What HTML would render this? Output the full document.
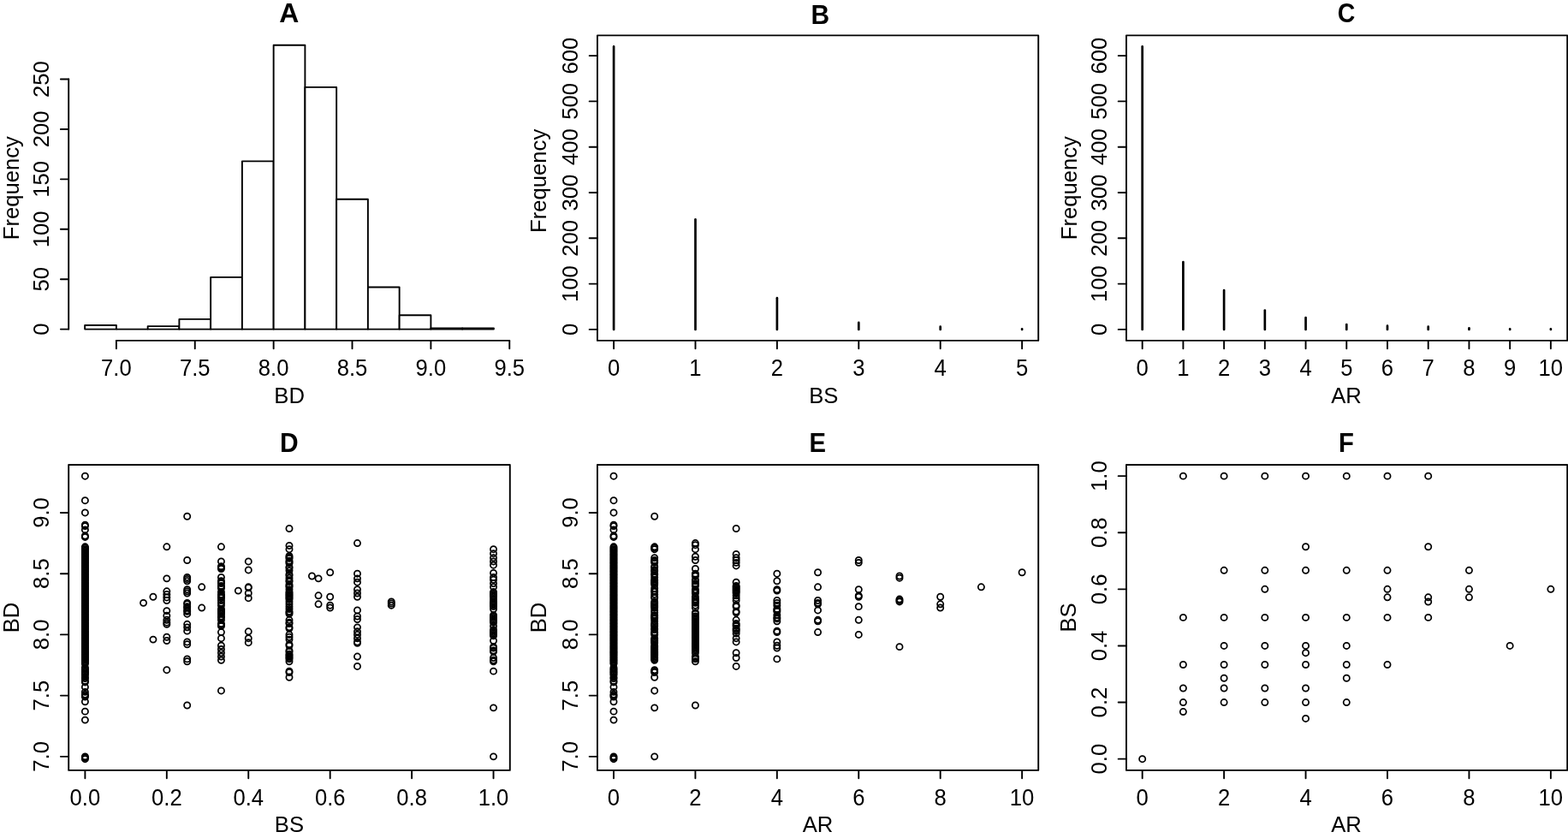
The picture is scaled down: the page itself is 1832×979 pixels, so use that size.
<!DOCTYPE html>
<html lang="en">
<head>
<meta charset="utf-8">
<title>Distributions and pairwise relationships of BD, BS and AR</title>
<style>
html,body{margin:0;padding:0;background:#fff;}
body{width:1832px;height:979px;overflow:hidden;}
svg{display:block;}
svg text{font-family:"Liberation Sans",sans-serif;fill:#000;}
.ax line,.spk line{stroke:#000;}
.box{fill:none;stroke:#000;stroke-width:1.9;stroke-linejoin:round;}
.bar rect{fill:#fff;stroke:#000;stroke-width:1.9;stroke-linejoin:round;}
.bar line{stroke:#000;stroke-width:1.9;}
.pt circle{fill:none;stroke:#000;stroke-width:1.75;}
</style>
</head>
<body>
<svg width="1832" height="979" viewBox="0 0 1832 979">
<rect x="0" y="0" width="1832" height="979" fill="#fff"/>
<text transform="translate(337.9 26.1) scale(1.03 1)" font-size="31" text-anchor="middle" font-weight="bold">A</text>
<g class="bar">
<rect x="99.15" y="379.93" width="36.75" height="4.67"/>
<line x1="135.9" y1="384.6" x2="172.65" y2="384.6"/>
<rect x="172.65" y="381.1" width="36.75" height="3.5"/>
<rect x="209.4" y="372.92" width="36.75" height="11.68"/>
<rect x="246.15" y="323.85" width="36.75" height="60.75"/>
<rect x="282.9" y="188.33" width="36.75" height="196.27"/>
<rect x="319.65" y="52.8" width="36.75" height="331.8"/>
<rect x="356.4" y="101.87" width="36.75" height="282.73"/>
<rect x="393.15" y="232.72" width="36.75" height="151.88"/>
<rect x="429.9" y="335.53" width="36.75" height="49.07"/>
<rect x="466.65" y="368.24" width="36.75" height="16.36"/>
<rect x="503.4" y="383.43" width="36.75" height="1.17"/>
<rect x="540.15" y="383.43" width="36.75" height="1.17"/>
</g>
<g class="ax">
<line x1="135.9" y1="397.9" x2="595.27" y2="397.9" stroke-width="1.9" stroke-linecap="round"/>
<line x1="135.9" y1="397.9" x2="135.9" y2="407.2" stroke-width="1.9" stroke-linecap="round"/>
<line x1="227.77" y1="397.9" x2="227.77" y2="407.2" stroke-width="1.9" stroke-linecap="round"/>
<line x1="319.65" y1="397.9" x2="319.65" y2="407.2" stroke-width="1.9" stroke-linecap="round"/>
<line x1="411.52" y1="397.9" x2="411.52" y2="407.2" stroke-width="1.9" stroke-linecap="round"/>
<line x1="503.4" y1="397.9" x2="503.4" y2="407.2" stroke-width="1.9" stroke-linecap="round"/>
<line x1="595.27" y1="397.9" x2="595.27" y2="407.2" stroke-width="1.9" stroke-linecap="round"/>
</g>
<g class="tl">
<text transform="translate(135.9 439) scale(1 1.045)" font-size="25.65" text-anchor="middle">7.0</text>
<text transform="translate(227.77 439) scale(1 1.045)" font-size="25.65" text-anchor="middle">7.5</text>
<text transform="translate(319.65 439) scale(1 1.045)" font-size="25.65" text-anchor="middle">8.0</text>
<text transform="translate(411.52 439) scale(1 1.045)" font-size="25.65" text-anchor="middle">8.5</text>
<text transform="translate(503.4 439) scale(1 1.045)" font-size="25.65" text-anchor="middle">9.0</text>
<text transform="translate(595.27 439) scale(1 1.045)" font-size="25.65" text-anchor="middle">9.5</text>
</g>
<g class="ax">
<line x1="80.2" y1="384.6" x2="80.2" y2="92.53" stroke-width="1.9" stroke-linecap="round"/>
<line x1="70.9" y1="384.6" x2="80.2" y2="384.6" stroke-width="1.9" stroke-linecap="round"/>
<line x1="70.9" y1="326.19" x2="80.2" y2="326.19" stroke-width="1.9" stroke-linecap="round"/>
<line x1="70.9" y1="267.77" x2="80.2" y2="267.77" stroke-width="1.9" stroke-linecap="round"/>
<line x1="70.9" y1="209.36" x2="80.2" y2="209.36" stroke-width="1.9" stroke-linecap="round"/>
<line x1="70.9" y1="150.94" x2="80.2" y2="150.94" stroke-width="1.9" stroke-linecap="round"/>
<line x1="70.9" y1="92.53" x2="80.2" y2="92.53" stroke-width="1.9" stroke-linecap="round"/>
</g>
<g class="tl">
<text transform="translate(56.8 384.6) rotate(-90) scale(1 1.035)" font-size="25.65" text-anchor="middle">0</text>
<text transform="translate(56.8 326.19) rotate(-90) scale(1 1.035)" font-size="25.65" text-anchor="middle">50</text>
<text transform="translate(56.8 267.77) rotate(-90) scale(1 1.035)" font-size="25.65" text-anchor="middle">100</text>
<text transform="translate(56.8 209.36) rotate(-90) scale(1 1.035)" font-size="25.65" text-anchor="middle">150</text>
<text transform="translate(56.8 150.94) rotate(-90) scale(1 1.035)" font-size="25.65" text-anchor="middle">200</text>
<text transform="translate(56.8 92.53) rotate(-90) scale(1 1.035)" font-size="25.65" text-anchor="middle">250</text>
</g>
<text transform="translate(338.1 470.6) scale(1 1.03)" font-size="25.65" text-anchor="middle">BD</text>
<text transform="translate(22 219.65) rotate(-90) scale(1 1.035)" font-size="25.65" text-anchor="middle">Frequency</text>
<rect class="box" x="697.95" y="41.4" width="515.25" height="356.5"/>
<text transform="translate(958.2 28.4) scale(0.967 1)" font-size="31" text-anchor="middle" font-weight="bold">B</text>
<g class="spk">
<line x1="717.1" y1="384.9" x2="717.1" y2="54.46" stroke-width="2.7" stroke-linecap="round"/>
<line x1="812.5" y1="384.9" x2="812.5" y2="256.45" stroke-width="2.7" stroke-linecap="round"/>
<line x1="907.9" y1="384.9" x2="907.9" y2="348.13" stroke-width="2.7" stroke-linecap="round"/>
<line x1="1003.3" y1="384.9" x2="1003.3" y2="376.91" stroke-width="2.7" stroke-linecap="round"/>
<line x1="1098.7" y1="384.9" x2="1098.7" y2="381.7" stroke-width="2.7" stroke-linecap="round"/>
<line x1="1194.1" y1="384.9" x2="1194.1" y2="384.37" stroke-width="2.7" stroke-linecap="round"/>
</g>
<g class="ax">
<line x1="717.1" y1="397.9" x2="717.1" y2="407.2" stroke-width="1.9" stroke-linecap="round"/>
<line x1="812.5" y1="397.9" x2="812.5" y2="407.2" stroke-width="1.9" stroke-linecap="round"/>
<line x1="907.9" y1="397.9" x2="907.9" y2="407.2" stroke-width="1.9" stroke-linecap="round"/>
<line x1="1003.3" y1="397.9" x2="1003.3" y2="407.2" stroke-width="1.9" stroke-linecap="round"/>
<line x1="1098.7" y1="397.9" x2="1098.7" y2="407.2" stroke-width="1.9" stroke-linecap="round"/>
<line x1="1194.1" y1="397.9" x2="1194.1" y2="407.2" stroke-width="1.9" stroke-linecap="round"/>
</g>
<g class="tl">
<text transform="translate(717.1 439) scale(1 1.045)" font-size="25.65" text-anchor="middle">0</text>
<text transform="translate(812.5 439) scale(1 1.045)" font-size="25.65" text-anchor="middle">1</text>
<text transform="translate(907.9 439) scale(1 1.045)" font-size="25.65" text-anchor="middle">2</text>
<text transform="translate(1003.3 439) scale(1 1.045)" font-size="25.65" text-anchor="middle">3</text>
<text transform="translate(1098.7 439) scale(1 1.045)" font-size="25.65" text-anchor="middle">4</text>
<text transform="translate(1194.1 439) scale(1 1.045)" font-size="25.65" text-anchor="middle">5</text>
</g>
<g class="ax">
<line x1="688.65" y1="384.9" x2="697.95" y2="384.9" stroke-width="1.9" stroke-linecap="round"/>
<line x1="688.65" y1="331.6" x2="697.95" y2="331.6" stroke-width="1.9" stroke-linecap="round"/>
<line x1="688.65" y1="278.31" x2="697.95" y2="278.31" stroke-width="1.9" stroke-linecap="round"/>
<line x1="688.65" y1="225.01" x2="697.95" y2="225.01" stroke-width="1.9" stroke-linecap="round"/>
<line x1="688.65" y1="171.71" x2="697.95" y2="171.71" stroke-width="1.9" stroke-linecap="round"/>
<line x1="688.65" y1="118.41" x2="697.95" y2="118.41" stroke-width="1.9" stroke-linecap="round"/>
<line x1="688.65" y1="65.12" x2="697.95" y2="65.12" stroke-width="1.9" stroke-linecap="round"/>
</g>
<g class="tl">
<text transform="translate(674.55 384.9) rotate(-90) scale(1 1.035)" font-size="25.65" text-anchor="middle">0</text>
<text transform="translate(674.55 331.6) rotate(-90) scale(1 1.035)" font-size="25.65" text-anchor="middle">100</text>
<text transform="translate(674.55 278.31) rotate(-90) scale(1 1.035)" font-size="25.65" text-anchor="middle">200</text>
<text transform="translate(674.55 225.01) rotate(-90) scale(1 1.035)" font-size="25.65" text-anchor="middle">300</text>
<text transform="translate(674.55 171.71) rotate(-90) scale(1 1.035)" font-size="25.65" text-anchor="middle">400</text>
<text transform="translate(674.55 118.41) rotate(-90) scale(1 1.035)" font-size="25.65" text-anchor="middle">500</text>
<text transform="translate(674.55 65.12) rotate(-90) scale(1 1.035)" font-size="25.65" text-anchor="middle">600</text>
</g>
<text transform="translate(962.3 470.6) scale(1 1.03)" font-size="25.65" text-anchor="middle">BS</text>
<text transform="translate(637.65 211.35) rotate(-90) scale(1 1.035)" font-size="25.65" text-anchor="middle">Frequency</text>
<rect class="box" x="1315.95" y="41.4" width="515.25" height="356.5"/>
<text transform="translate(1573 26.3) scale(0.92 1)" font-size="31" text-anchor="middle" font-weight="bold">C</text>
<g class="spk">
<line x1="1334.67" y1="384.9" x2="1334.67" y2="54.46" stroke-width="2.7" stroke-linecap="round"/>
<line x1="1382.39" y1="384.9" x2="1382.39" y2="306.02" stroke-width="2.7" stroke-linecap="round"/>
<line x1="1430.11" y1="384.9" x2="1430.11" y2="339.06" stroke-width="2.7" stroke-linecap="round"/>
<line x1="1477.83" y1="384.9" x2="1477.83" y2="362.52" stroke-width="2.7" stroke-linecap="round"/>
<line x1="1525.55" y1="384.9" x2="1525.55" y2="371.04" stroke-width="2.7" stroke-linecap="round"/>
<line x1="1573.27" y1="384.9" x2="1573.27" y2="379.04" stroke-width="2.7" stroke-linecap="round"/>
<line x1="1620.99" y1="384.9" x2="1620.99" y2="380.64" stroke-width="2.7" stroke-linecap="round"/>
<line x1="1668.71" y1="384.9" x2="1668.71" y2="381.7" stroke-width="2.7" stroke-linecap="round"/>
<line x1="1716.43" y1="384.9" x2="1716.43" y2="383.3" stroke-width="2.7" stroke-linecap="round"/>
<line x1="1764.15" y1="384.9" x2="1764.15" y2="384.37" stroke-width="2.7" stroke-linecap="round"/>
<line x1="1811.87" y1="384.9" x2="1811.87" y2="384.37" stroke-width="2.7" stroke-linecap="round"/>
</g>
<g class="ax">
<line x1="1334.67" y1="397.9" x2="1334.67" y2="407.2" stroke-width="1.9" stroke-linecap="round"/>
<line x1="1382.39" y1="397.9" x2="1382.39" y2="407.2" stroke-width="1.9" stroke-linecap="round"/>
<line x1="1430.11" y1="397.9" x2="1430.11" y2="407.2" stroke-width="1.9" stroke-linecap="round"/>
<line x1="1477.83" y1="397.9" x2="1477.83" y2="407.2" stroke-width="1.9" stroke-linecap="round"/>
<line x1="1525.55" y1="397.9" x2="1525.55" y2="407.2" stroke-width="1.9" stroke-linecap="round"/>
<line x1="1573.27" y1="397.9" x2="1573.27" y2="407.2" stroke-width="1.9" stroke-linecap="round"/>
<line x1="1620.99" y1="397.9" x2="1620.99" y2="407.2" stroke-width="1.9" stroke-linecap="round"/>
<line x1="1668.71" y1="397.9" x2="1668.71" y2="407.2" stroke-width="1.9" stroke-linecap="round"/>
<line x1="1716.43" y1="397.9" x2="1716.43" y2="407.2" stroke-width="1.9" stroke-linecap="round"/>
<line x1="1764.15" y1="397.9" x2="1764.15" y2="407.2" stroke-width="1.9" stroke-linecap="round"/>
<line x1="1811.87" y1="397.9" x2="1811.87" y2="407.2" stroke-width="1.9" stroke-linecap="round"/>
</g>
<g class="tl">
<text transform="translate(1334.67 439) scale(1 1.045)" font-size="25.65" text-anchor="middle">0</text>
<text transform="translate(1382.39 439) scale(1 1.045)" font-size="25.65" text-anchor="middle">1</text>
<text transform="translate(1430.11 439) scale(1 1.045)" font-size="25.65" text-anchor="middle">2</text>
<text transform="translate(1477.83 439) scale(1 1.045)" font-size="25.65" text-anchor="middle">3</text>
<text transform="translate(1525.55 439) scale(1 1.045)" font-size="25.65" text-anchor="middle">4</text>
<text transform="translate(1573.27 439) scale(1 1.045)" font-size="25.65" text-anchor="middle">5</text>
<text transform="translate(1620.99 439) scale(1 1.045)" font-size="25.65" text-anchor="middle">6</text>
<text transform="translate(1668.71 439) scale(1 1.045)" font-size="25.65" text-anchor="middle">7</text>
<text transform="translate(1716.43 439) scale(1 1.045)" font-size="25.65" text-anchor="middle">8</text>
<text transform="translate(1764.15 439) scale(1 1.045)" font-size="25.65" text-anchor="middle">9</text>
<text transform="translate(1811.87 439) scale(1 1.045)" font-size="25.65" text-anchor="middle">10</text>
</g>
<g class="ax">
<line x1="1306.65" y1="384.9" x2="1315.95" y2="384.9" stroke-width="1.9" stroke-linecap="round"/>
<line x1="1306.65" y1="331.6" x2="1315.95" y2="331.6" stroke-width="1.9" stroke-linecap="round"/>
<line x1="1306.65" y1="278.31" x2="1315.95" y2="278.31" stroke-width="1.9" stroke-linecap="round"/>
<line x1="1306.65" y1="225.01" x2="1315.95" y2="225.01" stroke-width="1.9" stroke-linecap="round"/>
<line x1="1306.65" y1="171.71" x2="1315.95" y2="171.71" stroke-width="1.9" stroke-linecap="round"/>
<line x1="1306.65" y1="118.41" x2="1315.95" y2="118.41" stroke-width="1.9" stroke-linecap="round"/>
<line x1="1306.65" y1="65.12" x2="1315.95" y2="65.12" stroke-width="1.9" stroke-linecap="round"/>
</g>
<g class="tl">
<text transform="translate(1292.55 384.9) rotate(-90) scale(1 1.035)" font-size="25.65" text-anchor="middle">0</text>
<text transform="translate(1292.55 331.6) rotate(-90) scale(1 1.035)" font-size="25.65" text-anchor="middle">100</text>
<text transform="translate(1292.55 278.31) rotate(-90) scale(1 1.035)" font-size="25.65" text-anchor="middle">200</text>
<text transform="translate(1292.55 225.01) rotate(-90) scale(1 1.035)" font-size="25.65" text-anchor="middle">300</text>
<text transform="translate(1292.55 171.71) rotate(-90) scale(1 1.035)" font-size="25.65" text-anchor="middle">400</text>
<text transform="translate(1292.55 118.41) rotate(-90) scale(1 1.035)" font-size="25.65" text-anchor="middle">500</text>
<text transform="translate(1292.55 65.12) rotate(-90) scale(1 1.035)" font-size="25.65" text-anchor="middle">600</text>
</g>
<text transform="translate(1573 470.6) scale(1 1.03)" font-size="25.65" text-anchor="middle">AR</text>
<text transform="translate(1257.75 219.65) rotate(-90) scale(1 1.035)" font-size="25.65" text-anchor="middle">Frequency</text>
<rect class="box" x="80.2" y="543" width="515.6" height="356.9"/>
<text transform="translate(337.9 527.5) scale(0.968 1)" font-size="31" text-anchor="middle" font-weight="bold">D</text>
<g class="pt">
<circle cx="99.4" cy="556.21" r="3.6"/>
<circle cx="99.4" cy="584.71" r="3.6"/>
<circle cx="99.4" cy="598.95" r="3.6"/>
<circle cx="99.4" cy="613.19" r="3.6"/>
<circle cx="99.4" cy="614.62" r="3.6"/>
<circle cx="99.4" cy="618.89" r="3.6"/>
<circle cx="99.4" cy="626.02" r="3.6"/>
<circle cx="99.4" cy="627.44" r="3.6"/>
<circle cx="99.4" cy="638.84" r="3.6"/>
<circle cx="99.4" cy="640.26" r="3.6"/>
<circle cx="99.4" cy="641.69" r="3.6"/>
<circle cx="99.4" cy="643.11" r="3.6"/>
<circle cx="99.4" cy="644.53" r="3.6"/>
<circle cx="99.4" cy="645.96" r="3.6"/>
<circle cx="99.4" cy="647.38" r="3.6"/>
<circle cx="99.4" cy="648.81" r="3.6"/>
<circle cx="99.4" cy="650.23" r="3.6"/>
<circle cx="99.4" cy="651.66" r="3.6"/>
<circle cx="99.4" cy="653.08" r="3.6"/>
<circle cx="99.4" cy="654.51" r="3.6"/>
<circle cx="99.4" cy="655.93" r="3.6"/>
<circle cx="99.4" cy="657.35" r="3.6"/>
<circle cx="99.4" cy="658.78" r="3.6"/>
<circle cx="99.4" cy="660.2" r="3.6"/>
<circle cx="99.4" cy="661.63" r="3.6"/>
<circle cx="99.4" cy="663.05" r="3.6"/>
<circle cx="99.4" cy="664.48" r="3.6"/>
<circle cx="99.4" cy="665.9" r="3.6"/>
<circle cx="99.4" cy="667.33" r="3.6"/>
<circle cx="99.4" cy="668.75" r="3.6"/>
<circle cx="99.4" cy="670.18" r="3.6"/>
<circle cx="99.4" cy="671.6" r="3.6"/>
<circle cx="99.4" cy="673.02" r="3.6"/>
<circle cx="99.4" cy="674.45" r="3.6"/>
<circle cx="99.4" cy="675.87" r="3.6"/>
<circle cx="99.4" cy="677.3" r="3.6"/>
<circle cx="99.4" cy="678.72" r="3.6"/>
<circle cx="99.4" cy="680.15" r="3.6"/>
<circle cx="99.4" cy="681.57" r="3.6"/>
<circle cx="99.4" cy="683" r="3.6"/>
<circle cx="99.4" cy="684.42" r="3.6"/>
<circle cx="99.4" cy="685.84" r="3.6"/>
<circle cx="99.4" cy="687.27" r="3.6"/>
<circle cx="99.4" cy="688.69" r="3.6"/>
<circle cx="99.4" cy="690.12" r="3.6"/>
<circle cx="99.4" cy="691.54" r="3.6"/>
<circle cx="99.4" cy="692.97" r="3.6"/>
<circle cx="99.4" cy="694.39" r="3.6"/>
<circle cx="99.4" cy="695.82" r="3.6"/>
<circle cx="99.4" cy="697.24" r="3.6"/>
<circle cx="99.4" cy="698.66" r="3.6"/>
<circle cx="99.4" cy="700.09" r="3.6"/>
<circle cx="99.4" cy="701.51" r="3.6"/>
<circle cx="99.4" cy="702.94" r="3.6"/>
<circle cx="99.4" cy="704.36" r="3.6"/>
<circle cx="99.4" cy="705.79" r="3.6"/>
<circle cx="99.4" cy="707.21" r="3.6"/>
<circle cx="99.4" cy="708.64" r="3.6"/>
<circle cx="99.4" cy="710.06" r="3.6"/>
<circle cx="99.4" cy="711.49" r="3.6"/>
<circle cx="99.4" cy="712.91" r="3.6"/>
<circle cx="99.4" cy="714.33" r="3.6"/>
<circle cx="99.4" cy="715.76" r="3.6"/>
<circle cx="99.4" cy="717.18" r="3.6"/>
<circle cx="99.4" cy="718.61" r="3.6"/>
<circle cx="99.4" cy="720.03" r="3.6"/>
<circle cx="99.4" cy="721.46" r="3.6"/>
<circle cx="99.4" cy="722.88" r="3.6"/>
<circle cx="99.4" cy="724.31" r="3.6"/>
<circle cx="99.4" cy="725.73" r="3.6"/>
<circle cx="99.4" cy="727.16" r="3.6"/>
<circle cx="99.4" cy="728.58" r="3.6"/>
<circle cx="99.4" cy="730" r="3.6"/>
<circle cx="99.4" cy="731.43" r="3.6"/>
<circle cx="99.4" cy="732.85" r="3.6"/>
<circle cx="99.4" cy="734.28" r="3.6"/>
<circle cx="99.4" cy="735.7" r="3.6"/>
<circle cx="99.4" cy="737.13" r="3.6"/>
<circle cx="99.4" cy="738.55" r="3.6"/>
<circle cx="99.4" cy="739.98" r="3.6"/>
<circle cx="99.4" cy="741.4" r="3.6"/>
<circle cx="99.4" cy="742.82" r="3.6"/>
<circle cx="99.4" cy="744.25" r="3.6"/>
<circle cx="99.4" cy="745.67" r="3.6"/>
<circle cx="99.4" cy="747.1" r="3.6"/>
<circle cx="99.4" cy="748.52" r="3.6"/>
<circle cx="99.4" cy="749.95" r="3.6"/>
<circle cx="99.4" cy="751.37" r="3.6"/>
<circle cx="99.4" cy="752.8" r="3.6"/>
<circle cx="99.4" cy="754.22" r="3.6"/>
<circle cx="99.4" cy="755.64" r="3.6"/>
<circle cx="99.4" cy="757.07" r="3.6"/>
<circle cx="99.4" cy="758.49" r="3.6"/>
<circle cx="99.4" cy="759.92" r="3.6"/>
<circle cx="99.4" cy="761.34" r="3.6"/>
<circle cx="99.4" cy="762.77" r="3.6"/>
<circle cx="99.4" cy="764.19" r="3.6"/>
<circle cx="99.4" cy="765.62" r="3.6"/>
<circle cx="99.4" cy="767.04" r="3.6"/>
<circle cx="99.4" cy="768.47" r="3.6"/>
<circle cx="99.4" cy="769.89" r="3.6"/>
<circle cx="99.4" cy="771.31" r="3.6"/>
<circle cx="99.4" cy="772.74" r="3.6"/>
<circle cx="99.4" cy="774.16" r="3.6"/>
<circle cx="99.4" cy="775.59" r="3.6"/>
<circle cx="99.4" cy="779.86" r="3.6"/>
<circle cx="99.4" cy="781.29" r="3.6"/>
<circle cx="99.4" cy="782.71" r="3.6"/>
<circle cx="99.4" cy="784.13" r="3.6"/>
<circle cx="99.4" cy="785.56" r="3.6"/>
<circle cx="99.4" cy="786.98" r="3.6"/>
<circle cx="99.4" cy="788.41" r="3.6"/>
<circle cx="99.4" cy="791.26" r="3.6"/>
<circle cx="99.4" cy="792.68" r="3.6"/>
<circle cx="99.4" cy="795.53" r="3.6"/>
<circle cx="99.4" cy="796.96" r="3.6"/>
<circle cx="99.4" cy="802.65" r="3.6"/>
<circle cx="99.4" cy="808.35" r="3.6"/>
<circle cx="99.4" cy="811.2" r="3.6"/>
<circle cx="99.4" cy="812.62" r="3.6"/>
<circle cx="99.4" cy="814.05" r="3.6"/>
<circle cx="99.4" cy="819.75" r="3.6"/>
<circle cx="99.4" cy="831.14" r="3.6"/>
<circle cx="99.4" cy="841.12" r="3.6"/>
<circle cx="99.4" cy="883.85" r="3.6"/>
<circle cx="99.4" cy="885.27" r="3.6"/>
<circle cx="99.4" cy="886.7" r="3.6"/>
<circle cx="167.56" cy="704.36" r="3.6"/>
<circle cx="178.93" cy="697.24" r="3.6"/>
<circle cx="178.93" cy="747.1" r="3.6"/>
<circle cx="194.83" cy="638.84" r="3.6"/>
<circle cx="194.83" cy="675.87" r="3.6"/>
<circle cx="194.83" cy="690.83" r="3.6"/>
<circle cx="194.83" cy="694.39" r="3.6"/>
<circle cx="194.83" cy="697.95" r="3.6"/>
<circle cx="194.83" cy="701.51" r="3.6"/>
<circle cx="194.83" cy="713.62" r="3.6"/>
<circle cx="194.83" cy="719.32" r="3.6"/>
<circle cx="194.83" cy="724.31" r="3.6"/>
<circle cx="194.83" cy="727.16" r="3.6"/>
<circle cx="194.83" cy="729.29" r="3.6"/>
<circle cx="194.83" cy="744.25" r="3.6"/>
<circle cx="194.83" cy="748.52" r="3.6"/>
<circle cx="194.83" cy="782.71" r="3.6"/>
<circle cx="218.69" cy="603.22" r="3.6"/>
<circle cx="218.69" cy="654.51" r="3.6"/>
<circle cx="218.69" cy="674.45" r="3.6"/>
<circle cx="218.69" cy="676.59" r="3.6"/>
<circle cx="218.69" cy="678.72" r="3.6"/>
<circle cx="218.69" cy="688.69" r="3.6"/>
<circle cx="218.69" cy="690.83" r="3.6"/>
<circle cx="218.69" cy="692.97" r="3.6"/>
<circle cx="218.69" cy="704.36" r="3.6"/>
<circle cx="218.69" cy="705.79" r="3.6"/>
<circle cx="218.69" cy="708.64" r="3.6"/>
<circle cx="218.69" cy="710.06" r="3.6"/>
<circle cx="218.69" cy="712.91" r="3.6"/>
<circle cx="218.69" cy="714.33" r="3.6"/>
<circle cx="218.69" cy="717.18" r="3.6"/>
<circle cx="218.69" cy="729.29" r="3.6"/>
<circle cx="218.69" cy="732.85" r="3.6"/>
<circle cx="218.69" cy="737.13" r="3.6"/>
<circle cx="218.69" cy="749.95" r="3.6"/>
<circle cx="218.69" cy="752.8" r="3.6"/>
<circle cx="218.69" cy="769.89" r="3.6"/>
<circle cx="218.69" cy="772.74" r="3.6"/>
<circle cx="218.69" cy="824.02" r="3.6"/>
<circle cx="235.73" cy="685.84" r="3.6"/>
<circle cx="235.73" cy="710.06" r="3.6"/>
<circle cx="258.45" cy="638.84" r="3.6"/>
<circle cx="258.45" cy="655.93" r="3.6"/>
<circle cx="258.45" cy="661.63" r="3.6"/>
<circle cx="258.45" cy="663.05" r="3.6"/>
<circle cx="258.45" cy="664.48" r="3.6"/>
<circle cx="258.45" cy="674.45" r="3.6"/>
<circle cx="258.45" cy="678.72" r="3.6"/>
<circle cx="258.45" cy="680.15" r="3.6"/>
<circle cx="258.45" cy="681.57" r="3.6"/>
<circle cx="258.45" cy="684.42" r="3.6"/>
<circle cx="258.45" cy="685.84" r="3.6"/>
<circle cx="258.45" cy="687.27" r="3.6"/>
<circle cx="258.45" cy="691.54" r="3.6"/>
<circle cx="258.45" cy="694.39" r="3.6"/>
<circle cx="258.45" cy="695.82" r="3.6"/>
<circle cx="258.45" cy="697.24" r="3.6"/>
<circle cx="258.45" cy="698.66" r="3.6"/>
<circle cx="258.45" cy="701.51" r="3.6"/>
<circle cx="258.45" cy="704.36" r="3.6"/>
<circle cx="258.45" cy="707.21" r="3.6"/>
<circle cx="258.45" cy="711.49" r="3.6"/>
<circle cx="258.45" cy="712.91" r="3.6"/>
<circle cx="258.45" cy="714.33" r="3.6"/>
<circle cx="258.45" cy="715.76" r="3.6"/>
<circle cx="258.45" cy="717.18" r="3.6"/>
<circle cx="258.45" cy="720.03" r="3.6"/>
<circle cx="258.45" cy="721.46" r="3.6"/>
<circle cx="258.45" cy="724.31" r="3.6"/>
<circle cx="258.45" cy="728.58" r="3.6"/>
<circle cx="258.45" cy="730" r="3.6"/>
<circle cx="258.45" cy="731.43" r="3.6"/>
<circle cx="258.45" cy="738.55" r="3.6"/>
<circle cx="258.45" cy="745.67" r="3.6"/>
<circle cx="258.45" cy="754.22" r="3.6"/>
<circle cx="258.45" cy="758.49" r="3.6"/>
<circle cx="258.45" cy="762.77" r="3.6"/>
<circle cx="258.45" cy="767.04" r="3.6"/>
<circle cx="258.45" cy="771.31" r="3.6"/>
<circle cx="258.45" cy="806.93" r="3.6"/>
<circle cx="278.33" cy="690.12" r="3.6"/>
<circle cx="290.26" cy="655.93" r="3.6"/>
<circle cx="290.26" cy="665.9" r="3.6"/>
<circle cx="290.26" cy="685.84" r="3.6"/>
<circle cx="290.26" cy="686.56" r="3.6"/>
<circle cx="290.26" cy="692.97" r="3.6"/>
<circle cx="290.26" cy="698.66" r="3.6"/>
<circle cx="290.26" cy="737.84" r="3.6"/>
<circle cx="290.26" cy="745.67" r="3.6"/>
<circle cx="290.26" cy="750.66" r="3.6"/>
<circle cx="337.98" cy="617.47" r="3.6"/>
<circle cx="337.98" cy="637.41" r="3.6"/>
<circle cx="337.98" cy="641.69" r="3.6"/>
<circle cx="337.98" cy="649.52" r="3.6"/>
<circle cx="337.98" cy="650.94" r="3.6"/>
<circle cx="337.98" cy="652.37" r="3.6"/>
<circle cx="337.98" cy="655.22" r="3.6"/>
<circle cx="337.98" cy="656.64" r="3.6"/>
<circle cx="337.98" cy="658.07" r="3.6"/>
<circle cx="337.98" cy="662.34" r="3.6"/>
<circle cx="337.98" cy="663.76" r="3.6"/>
<circle cx="337.98" cy="666.61" r="3.6"/>
<circle cx="337.98" cy="670.89" r="3.6"/>
<circle cx="337.98" cy="672.31" r="3.6"/>
<circle cx="337.98" cy="675.16" r="3.6"/>
<circle cx="337.98" cy="678.01" r="3.6"/>
<circle cx="337.98" cy="679.43" r="3.6"/>
<circle cx="337.98" cy="683" r="3.6"/>
<circle cx="337.98" cy="684.42" r="3.6"/>
<circle cx="337.98" cy="685.84" r="3.6"/>
<circle cx="337.98" cy="688.69" r="3.6"/>
<circle cx="337.98" cy="691.54" r="3.6"/>
<circle cx="337.98" cy="692.97" r="3.6"/>
<circle cx="337.98" cy="694.39" r="3.6"/>
<circle cx="337.98" cy="695.82" r="3.6"/>
<circle cx="337.98" cy="697.24" r="3.6"/>
<circle cx="337.98" cy="698.66" r="3.6"/>
<circle cx="337.98" cy="700.09" r="3.6"/>
<circle cx="337.98" cy="702.94" r="3.6"/>
<circle cx="337.98" cy="705.79" r="3.6"/>
<circle cx="337.98" cy="708.64" r="3.6"/>
<circle cx="337.98" cy="711.49" r="3.6"/>
<circle cx="337.98" cy="714.33" r="3.6"/>
<circle cx="337.98" cy="715.76" r="3.6"/>
<circle cx="337.98" cy="717.18" r="3.6"/>
<circle cx="337.98" cy="724.31" r="3.6"/>
<circle cx="337.98" cy="727.16" r="3.6"/>
<circle cx="337.98" cy="728.58" r="3.6"/>
<circle cx="337.98" cy="732.85" r="3.6"/>
<circle cx="337.98" cy="734.28" r="3.6"/>
<circle cx="337.98" cy="741.4" r="3.6"/>
<circle cx="337.98" cy="744.25" r="3.6"/>
<circle cx="337.98" cy="747.1" r="3.6"/>
<circle cx="337.98" cy="752.8" r="3.6"/>
<circle cx="337.98" cy="754.22" r="3.6"/>
<circle cx="337.98" cy="759.92" r="3.6"/>
<circle cx="337.98" cy="761.34" r="3.6"/>
<circle cx="337.98" cy="764.19" r="3.6"/>
<circle cx="337.98" cy="765.62" r="3.6"/>
<circle cx="337.98" cy="767.04" r="3.6"/>
<circle cx="337.98" cy="768.47" r="3.6"/>
<circle cx="337.98" cy="769.89" r="3.6"/>
<circle cx="337.98" cy="772.74" r="3.6"/>
<circle cx="337.98" cy="784.13" r="3.6"/>
<circle cx="337.98" cy="785.56" r="3.6"/>
<circle cx="337.98" cy="791.26" r="3.6"/>
<circle cx="364.48" cy="673.02" r="3.6"/>
<circle cx="372.06" cy="675.87" r="3.6"/>
<circle cx="372.06" cy="695.82" r="3.6"/>
<circle cx="372.06" cy="705.79" r="3.6"/>
<circle cx="385.69" cy="668.75" r="3.6"/>
<circle cx="385.69" cy="697.24" r="3.6"/>
<circle cx="385.69" cy="707.21" r="3.6"/>
<circle cx="385.69" cy="710.06" r="3.6"/>
<circle cx="417.5" cy="634.56" r="3.6"/>
<circle cx="417.5" cy="670.18" r="3.6"/>
<circle cx="417.5" cy="675.87" r="3.6"/>
<circle cx="417.5" cy="680.15" r="3.6"/>
<circle cx="417.5" cy="688.69" r="3.6"/>
<circle cx="417.5" cy="692.97" r="3.6"/>
<circle cx="417.5" cy="697.24" r="3.6"/>
<circle cx="417.5" cy="712.91" r="3.6"/>
<circle cx="417.5" cy="720.03" r="3.6"/>
<circle cx="417.5" cy="723.59" r="3.6"/>
<circle cx="417.5" cy="732.85" r="3.6"/>
<circle cx="417.5" cy="737.84" r="3.6"/>
<circle cx="417.5" cy="741.4" r="3.6"/>
<circle cx="417.5" cy="745.67" r="3.6"/>
<circle cx="417.5" cy="749.95" r="3.6"/>
<circle cx="417.5" cy="751.37" r="3.6"/>
<circle cx="417.5" cy="767.04" r="3.6"/>
<circle cx="417.5" cy="778.44" r="3.6"/>
<circle cx="457.26" cy="702.94" r="3.6"/>
<circle cx="457.26" cy="705.08" r="3.6"/>
<circle cx="457.26" cy="707.21" r="3.6"/>
<circle cx="576.55" cy="641.69" r="3.6"/>
<circle cx="576.55" cy="646.67" r="3.6"/>
<circle cx="576.55" cy="651.66" r="3.6"/>
<circle cx="576.55" cy="655.93" r="3.6"/>
<circle cx="576.55" cy="660.2" r="3.6"/>
<circle cx="576.55" cy="669.46" r="3.6"/>
<circle cx="576.55" cy="674.45" r="3.6"/>
<circle cx="576.55" cy="677.3" r="3.6"/>
<circle cx="576.55" cy="681.57" r="3.6"/>
<circle cx="576.55" cy="685.84" r="3.6"/>
<circle cx="576.55" cy="691.54" r="3.6"/>
<circle cx="576.55" cy="692.97" r="3.6"/>
<circle cx="576.55" cy="694.39" r="3.6"/>
<circle cx="576.55" cy="695.82" r="3.6"/>
<circle cx="576.55" cy="697.24" r="3.6"/>
<circle cx="576.55" cy="700.09" r="3.6"/>
<circle cx="576.55" cy="702.94" r="3.6"/>
<circle cx="576.55" cy="704.36" r="3.6"/>
<circle cx="576.55" cy="705.79" r="3.6"/>
<circle cx="576.55" cy="707.21" r="3.6"/>
<circle cx="576.55" cy="708.64" r="3.6"/>
<circle cx="576.55" cy="711.49" r="3.6"/>
<circle cx="576.55" cy="718.61" r="3.6"/>
<circle cx="576.55" cy="720.03" r="3.6"/>
<circle cx="576.55" cy="721.46" r="3.6"/>
<circle cx="576.55" cy="722.88" r="3.6"/>
<circle cx="576.55" cy="724.31" r="3.6"/>
<circle cx="576.55" cy="725.73" r="3.6"/>
<circle cx="576.55" cy="727.16" r="3.6"/>
<circle cx="576.55" cy="731.43" r="3.6"/>
<circle cx="576.55" cy="735.7" r="3.6"/>
<circle cx="576.55" cy="737.13" r="3.6"/>
<circle cx="576.55" cy="738.55" r="3.6"/>
<circle cx="576.55" cy="739.98" r="3.6"/>
<circle cx="576.55" cy="741.4" r="3.6"/>
<circle cx="576.55" cy="742.82" r="3.6"/>
<circle cx="576.55" cy="748.52" r="3.6"/>
<circle cx="576.55" cy="755.64" r="3.6"/>
<circle cx="576.55" cy="757.07" r="3.6"/>
<circle cx="576.55" cy="759.92" r="3.6"/>
<circle cx="576.55" cy="761.34" r="3.6"/>
<circle cx="576.55" cy="768.47" r="3.6"/>
<circle cx="576.55" cy="771.31" r="3.6"/>
<circle cx="576.55" cy="772.74" r="3.6"/>
<circle cx="576.55" cy="784.13" r="3.6"/>
<circle cx="576.55" cy="826.87" r="3.6"/>
<circle cx="576.55" cy="883.85" r="3.6"/>
</g>
<g class="ax">
<line x1="99.4" y1="899.9" x2="99.4" y2="909.2" stroke-width="1.9" stroke-linecap="round"/>
<line x1="194.83" y1="899.9" x2="194.83" y2="909.2" stroke-width="1.9" stroke-linecap="round"/>
<line x1="290.26" y1="899.9" x2="290.26" y2="909.2" stroke-width="1.9" stroke-linecap="round"/>
<line x1="385.69" y1="899.9" x2="385.69" y2="909.2" stroke-width="1.9" stroke-linecap="round"/>
<line x1="481.12" y1="899.9" x2="481.12" y2="909.2" stroke-width="1.9" stroke-linecap="round"/>
<line x1="576.55" y1="899.9" x2="576.55" y2="909.2" stroke-width="1.9" stroke-linecap="round"/>
</g>
<g class="tl">
<text transform="translate(99.4 941) scale(1 1.045)" font-size="25.65" text-anchor="middle">0.0</text>
<text transform="translate(194.83 941) scale(1 1.045)" font-size="25.65" text-anchor="middle">0.2</text>
<text transform="translate(290.26 941) scale(1 1.045)" font-size="25.65" text-anchor="middle">0.4</text>
<text transform="translate(385.69 941) scale(1 1.045)" font-size="25.65" text-anchor="middle">0.6</text>
<text transform="translate(481.12 941) scale(1 1.045)" font-size="25.65" text-anchor="middle">0.8</text>
<text transform="translate(576.55 941) scale(1 1.045)" font-size="25.65" text-anchor="middle">1.0</text>
</g>
<g class="ax">
<line x1="70.9" y1="883.85" x2="80.2" y2="883.85" stroke-width="1.9" stroke-linecap="round"/>
<line x1="70.9" y1="812.62" x2="80.2" y2="812.62" stroke-width="1.9" stroke-linecap="round"/>
<line x1="70.9" y1="741.4" x2="80.2" y2="741.4" stroke-width="1.9" stroke-linecap="round"/>
<line x1="70.9" y1="670.18" x2="80.2" y2="670.18" stroke-width="1.9" stroke-linecap="round"/>
<line x1="70.9" y1="598.95" x2="80.2" y2="598.95" stroke-width="1.9" stroke-linecap="round"/>
</g>
<g class="tl">
<text transform="translate(56.8 883.85) rotate(-90) scale(1 1.035)" font-size="25.65" text-anchor="middle">7.0</text>
<text transform="translate(56.8 812.62) rotate(-90) scale(1 1.035)" font-size="25.65" text-anchor="middle">7.5</text>
<text transform="translate(56.8 741.4) rotate(-90) scale(1 1.035)" font-size="25.65" text-anchor="middle">8.0</text>
<text transform="translate(56.8 670.18) rotate(-90) scale(1 1.035)" font-size="25.65" text-anchor="middle">8.5</text>
<text transform="translate(56.8 598.95) rotate(-90) scale(1 1.035)" font-size="25.65" text-anchor="middle">9.0</text>
</g>
<text transform="translate(337.9 972.1) scale(1 1.03)" font-size="25.65" text-anchor="middle">BS</text>
<text transform="translate(22 721.45) rotate(-90) scale(1 1.035)" font-size="25.65" text-anchor="middle">BD</text>
<rect class="box" x="697.95" y="543" width="515.25" height="356.9"/>
<text transform="translate(955.3 527.5) scale(0.943 1)" font-size="31" text-anchor="middle" font-weight="bold">E</text>
<g class="pt">
<circle cx="717" cy="556.21" r="3.6"/>
<circle cx="717" cy="584.71" r="3.6"/>
<circle cx="717" cy="598.95" r="3.6"/>
<circle cx="717" cy="613.19" r="3.6"/>
<circle cx="717" cy="614.62" r="3.6"/>
<circle cx="717" cy="618.89" r="3.6"/>
<circle cx="717" cy="626.02" r="3.6"/>
<circle cx="717" cy="627.44" r="3.6"/>
<circle cx="717" cy="638.84" r="3.6"/>
<circle cx="717" cy="640.26" r="3.6"/>
<circle cx="717" cy="641.69" r="3.6"/>
<circle cx="717" cy="643.11" r="3.6"/>
<circle cx="717" cy="644.53" r="3.6"/>
<circle cx="717" cy="645.96" r="3.6"/>
<circle cx="717" cy="647.38" r="3.6"/>
<circle cx="717" cy="648.81" r="3.6"/>
<circle cx="717" cy="650.23" r="3.6"/>
<circle cx="717" cy="651.66" r="3.6"/>
<circle cx="717" cy="653.08" r="3.6"/>
<circle cx="717" cy="654.51" r="3.6"/>
<circle cx="717" cy="655.93" r="3.6"/>
<circle cx="717" cy="657.35" r="3.6"/>
<circle cx="717" cy="658.78" r="3.6"/>
<circle cx="717" cy="660.2" r="3.6"/>
<circle cx="717" cy="661.63" r="3.6"/>
<circle cx="717" cy="663.05" r="3.6"/>
<circle cx="717" cy="664.48" r="3.6"/>
<circle cx="717" cy="665.9" r="3.6"/>
<circle cx="717" cy="667.33" r="3.6"/>
<circle cx="717" cy="668.75" r="3.6"/>
<circle cx="717" cy="670.18" r="3.6"/>
<circle cx="717" cy="671.6" r="3.6"/>
<circle cx="717" cy="673.02" r="3.6"/>
<circle cx="717" cy="674.45" r="3.6"/>
<circle cx="717" cy="675.87" r="3.6"/>
<circle cx="717" cy="677.3" r="3.6"/>
<circle cx="717" cy="678.72" r="3.6"/>
<circle cx="717" cy="680.15" r="3.6"/>
<circle cx="717" cy="681.57" r="3.6"/>
<circle cx="717" cy="683" r="3.6"/>
<circle cx="717" cy="684.42" r="3.6"/>
<circle cx="717" cy="685.84" r="3.6"/>
<circle cx="717" cy="687.27" r="3.6"/>
<circle cx="717" cy="688.69" r="3.6"/>
<circle cx="717" cy="690.12" r="3.6"/>
<circle cx="717" cy="691.54" r="3.6"/>
<circle cx="717" cy="692.97" r="3.6"/>
<circle cx="717" cy="694.39" r="3.6"/>
<circle cx="717" cy="695.82" r="3.6"/>
<circle cx="717" cy="697.24" r="3.6"/>
<circle cx="717" cy="698.66" r="3.6"/>
<circle cx="717" cy="700.09" r="3.6"/>
<circle cx="717" cy="701.51" r="3.6"/>
<circle cx="717" cy="702.94" r="3.6"/>
<circle cx="717" cy="704.36" r="3.6"/>
<circle cx="717" cy="705.79" r="3.6"/>
<circle cx="717" cy="707.21" r="3.6"/>
<circle cx="717" cy="708.64" r="3.6"/>
<circle cx="717" cy="710.06" r="3.6"/>
<circle cx="717" cy="711.49" r="3.6"/>
<circle cx="717" cy="712.91" r="3.6"/>
<circle cx="717" cy="714.33" r="3.6"/>
<circle cx="717" cy="715.76" r="3.6"/>
<circle cx="717" cy="717.18" r="3.6"/>
<circle cx="717" cy="718.61" r="3.6"/>
<circle cx="717" cy="720.03" r="3.6"/>
<circle cx="717" cy="721.46" r="3.6"/>
<circle cx="717" cy="722.88" r="3.6"/>
<circle cx="717" cy="724.31" r="3.6"/>
<circle cx="717" cy="725.73" r="3.6"/>
<circle cx="717" cy="727.16" r="3.6"/>
<circle cx="717" cy="728.58" r="3.6"/>
<circle cx="717" cy="730" r="3.6"/>
<circle cx="717" cy="731.43" r="3.6"/>
<circle cx="717" cy="732.85" r="3.6"/>
<circle cx="717" cy="734.28" r="3.6"/>
<circle cx="717" cy="735.7" r="3.6"/>
<circle cx="717" cy="737.13" r="3.6"/>
<circle cx="717" cy="738.55" r="3.6"/>
<circle cx="717" cy="739.98" r="3.6"/>
<circle cx="717" cy="741.4" r="3.6"/>
<circle cx="717" cy="742.82" r="3.6"/>
<circle cx="717" cy="744.25" r="3.6"/>
<circle cx="717" cy="745.67" r="3.6"/>
<circle cx="717" cy="747.1" r="3.6"/>
<circle cx="717" cy="748.52" r="3.6"/>
<circle cx="717" cy="749.95" r="3.6"/>
<circle cx="717" cy="751.37" r="3.6"/>
<circle cx="717" cy="752.8" r="3.6"/>
<circle cx="717" cy="754.22" r="3.6"/>
<circle cx="717" cy="755.64" r="3.6"/>
<circle cx="717" cy="757.07" r="3.6"/>
<circle cx="717" cy="758.49" r="3.6"/>
<circle cx="717" cy="759.92" r="3.6"/>
<circle cx="717" cy="761.34" r="3.6"/>
<circle cx="717" cy="762.77" r="3.6"/>
<circle cx="717" cy="764.19" r="3.6"/>
<circle cx="717" cy="765.62" r="3.6"/>
<circle cx="717" cy="767.04" r="3.6"/>
<circle cx="717" cy="768.47" r="3.6"/>
<circle cx="717" cy="769.89" r="3.6"/>
<circle cx="717" cy="771.31" r="3.6"/>
<circle cx="717" cy="772.74" r="3.6"/>
<circle cx="717" cy="774.16" r="3.6"/>
<circle cx="717" cy="775.59" r="3.6"/>
<circle cx="717" cy="779.86" r="3.6"/>
<circle cx="717" cy="781.29" r="3.6"/>
<circle cx="717" cy="782.71" r="3.6"/>
<circle cx="717" cy="784.13" r="3.6"/>
<circle cx="717" cy="785.56" r="3.6"/>
<circle cx="717" cy="786.98" r="3.6"/>
<circle cx="717" cy="788.41" r="3.6"/>
<circle cx="717" cy="791.26" r="3.6"/>
<circle cx="717" cy="792.68" r="3.6"/>
<circle cx="717" cy="795.53" r="3.6"/>
<circle cx="717" cy="796.96" r="3.6"/>
<circle cx="717" cy="802.65" r="3.6"/>
<circle cx="717" cy="808.35" r="3.6"/>
<circle cx="717" cy="811.2" r="3.6"/>
<circle cx="717" cy="812.62" r="3.6"/>
<circle cx="717" cy="814.05" r="3.6"/>
<circle cx="717" cy="819.75" r="3.6"/>
<circle cx="717" cy="831.14" r="3.6"/>
<circle cx="717" cy="841.12" r="3.6"/>
<circle cx="717" cy="883.85" r="3.6"/>
<circle cx="717" cy="885.27" r="3.6"/>
<circle cx="717" cy="886.7" r="3.6"/>
<circle cx="764.71" cy="603.22" r="3.6"/>
<circle cx="764.71" cy="638.84" r="3.6"/>
<circle cx="764.71" cy="640.26" r="3.6"/>
<circle cx="764.71" cy="641.69" r="3.6"/>
<circle cx="764.71" cy="651.66" r="3.6"/>
<circle cx="764.71" cy="654.51" r="3.6"/>
<circle cx="764.71" cy="655.93" r="3.6"/>
<circle cx="764.71" cy="657.35" r="3.6"/>
<circle cx="764.71" cy="661.63" r="3.6"/>
<circle cx="764.71" cy="663.05" r="3.6"/>
<circle cx="764.71" cy="665.9" r="3.6"/>
<circle cx="764.71" cy="667.33" r="3.6"/>
<circle cx="764.71" cy="670.18" r="3.6"/>
<circle cx="764.71" cy="671.6" r="3.6"/>
<circle cx="764.71" cy="674.45" r="3.6"/>
<circle cx="764.71" cy="677.3" r="3.6"/>
<circle cx="764.71" cy="678.72" r="3.6"/>
<circle cx="764.71" cy="680.15" r="3.6"/>
<circle cx="764.71" cy="681.57" r="3.6"/>
<circle cx="764.71" cy="683" r="3.6"/>
<circle cx="764.71" cy="687.27" r="3.6"/>
<circle cx="764.71" cy="690.12" r="3.6"/>
<circle cx="764.71" cy="691.54" r="3.6"/>
<circle cx="764.71" cy="694.39" r="3.6"/>
<circle cx="764.71" cy="697.24" r="3.6"/>
<circle cx="764.71" cy="698.66" r="3.6"/>
<circle cx="764.71" cy="702.94" r="3.6"/>
<circle cx="764.71" cy="704.36" r="3.6"/>
<circle cx="764.71" cy="705.79" r="3.6"/>
<circle cx="764.71" cy="707.21" r="3.6"/>
<circle cx="764.71" cy="708.64" r="3.6"/>
<circle cx="764.71" cy="710.06" r="3.6"/>
<circle cx="764.71" cy="712.91" r="3.6"/>
<circle cx="764.71" cy="715.76" r="3.6"/>
<circle cx="764.71" cy="718.61" r="3.6"/>
<circle cx="764.71" cy="720.03" r="3.6"/>
<circle cx="764.71" cy="721.46" r="3.6"/>
<circle cx="764.71" cy="722.88" r="3.6"/>
<circle cx="764.71" cy="725.73" r="3.6"/>
<circle cx="764.71" cy="728.58" r="3.6"/>
<circle cx="764.71" cy="730" r="3.6"/>
<circle cx="764.71" cy="731.43" r="3.6"/>
<circle cx="764.71" cy="734.28" r="3.6"/>
<circle cx="764.71" cy="735.7" r="3.6"/>
<circle cx="764.71" cy="738.55" r="3.6"/>
<circle cx="764.71" cy="739.98" r="3.6"/>
<circle cx="764.71" cy="741.4" r="3.6"/>
<circle cx="764.71" cy="745.67" r="3.6"/>
<circle cx="764.71" cy="747.1" r="3.6"/>
<circle cx="764.71" cy="748.52" r="3.6"/>
<circle cx="764.71" cy="749.95" r="3.6"/>
<circle cx="764.71" cy="751.37" r="3.6"/>
<circle cx="764.71" cy="754.22" r="3.6"/>
<circle cx="764.71" cy="755.64" r="3.6"/>
<circle cx="764.71" cy="757.07" r="3.6"/>
<circle cx="764.71" cy="758.49" r="3.6"/>
<circle cx="764.71" cy="759.92" r="3.6"/>
<circle cx="764.71" cy="761.34" r="3.6"/>
<circle cx="764.71" cy="762.77" r="3.6"/>
<circle cx="764.71" cy="764.19" r="3.6"/>
<circle cx="764.71" cy="765.62" r="3.6"/>
<circle cx="764.71" cy="767.04" r="3.6"/>
<circle cx="764.71" cy="768.47" r="3.6"/>
<circle cx="764.71" cy="769.89" r="3.6"/>
<circle cx="764.71" cy="771.31" r="3.6"/>
<circle cx="764.71" cy="782.71" r="3.6"/>
<circle cx="764.71" cy="784.13" r="3.6"/>
<circle cx="764.71" cy="785.56" r="3.6"/>
<circle cx="764.71" cy="791.26" r="3.6"/>
<circle cx="764.71" cy="806.93" r="3.6"/>
<circle cx="764.71" cy="826.87" r="3.6"/>
<circle cx="764.71" cy="883.85" r="3.6"/>
<circle cx="812.42" cy="634.56" r="3.6"/>
<circle cx="812.42" cy="636.7" r="3.6"/>
<circle cx="812.42" cy="641.69" r="3.6"/>
<circle cx="812.42" cy="650.23" r="3.6"/>
<circle cx="812.42" cy="654.51" r="3.6"/>
<circle cx="812.42" cy="664.48" r="3.6"/>
<circle cx="812.42" cy="670.18" r="3.6"/>
<circle cx="812.42" cy="671.6" r="3.6"/>
<circle cx="812.42" cy="673.02" r="3.6"/>
<circle cx="812.42" cy="677.3" r="3.6"/>
<circle cx="812.42" cy="678.72" r="3.6"/>
<circle cx="812.42" cy="681.57" r="3.6"/>
<circle cx="812.42" cy="683" r="3.6"/>
<circle cx="812.42" cy="684.42" r="3.6"/>
<circle cx="812.42" cy="688.69" r="3.6"/>
<circle cx="812.42" cy="690.12" r="3.6"/>
<circle cx="812.42" cy="691.54" r="3.6"/>
<circle cx="812.42" cy="692.97" r="3.6"/>
<circle cx="812.42" cy="697.24" r="3.6"/>
<circle cx="812.42" cy="700.09" r="3.6"/>
<circle cx="812.42" cy="701.51" r="3.6"/>
<circle cx="812.42" cy="702.94" r="3.6"/>
<circle cx="812.42" cy="704.36" r="3.6"/>
<circle cx="812.42" cy="707.21" r="3.6"/>
<circle cx="812.42" cy="710.06" r="3.6"/>
<circle cx="812.42" cy="715.76" r="3.6"/>
<circle cx="812.42" cy="717.18" r="3.6"/>
<circle cx="812.42" cy="720.03" r="3.6"/>
<circle cx="812.42" cy="721.46" r="3.6"/>
<circle cx="812.42" cy="722.88" r="3.6"/>
<circle cx="812.42" cy="724.31" r="3.6"/>
<circle cx="812.42" cy="725.73" r="3.6"/>
<circle cx="812.42" cy="727.16" r="3.6"/>
<circle cx="812.42" cy="728.58" r="3.6"/>
<circle cx="812.42" cy="730" r="3.6"/>
<circle cx="812.42" cy="731.43" r="3.6"/>
<circle cx="812.42" cy="732.85" r="3.6"/>
<circle cx="812.42" cy="734.28" r="3.6"/>
<circle cx="812.42" cy="735.7" r="3.6"/>
<circle cx="812.42" cy="737.13" r="3.6"/>
<circle cx="812.42" cy="738.55" r="3.6"/>
<circle cx="812.42" cy="739.98" r="3.6"/>
<circle cx="812.42" cy="741.4" r="3.6"/>
<circle cx="812.42" cy="742.82" r="3.6"/>
<circle cx="812.42" cy="744.25" r="3.6"/>
<circle cx="812.42" cy="745.67" r="3.6"/>
<circle cx="812.42" cy="747.1" r="3.6"/>
<circle cx="812.42" cy="748.52" r="3.6"/>
<circle cx="812.42" cy="749.95" r="3.6"/>
<circle cx="812.42" cy="751.37" r="3.6"/>
<circle cx="812.42" cy="752.8" r="3.6"/>
<circle cx="812.42" cy="754.22" r="3.6"/>
<circle cx="812.42" cy="755.64" r="3.6"/>
<circle cx="812.42" cy="757.07" r="3.6"/>
<circle cx="812.42" cy="758.49" r="3.6"/>
<circle cx="812.42" cy="759.92" r="3.6"/>
<circle cx="812.42" cy="762.77" r="3.6"/>
<circle cx="812.42" cy="767.04" r="3.6"/>
<circle cx="812.42" cy="768.47" r="3.6"/>
<circle cx="812.42" cy="769.89" r="3.6"/>
<circle cx="812.42" cy="772.74" r="3.6"/>
<circle cx="812.42" cy="824.02" r="3.6"/>
<circle cx="860.13" cy="617.47" r="3.6"/>
<circle cx="860.13" cy="647.38" r="3.6"/>
<circle cx="860.13" cy="651.66" r="3.6"/>
<circle cx="860.13" cy="654.51" r="3.6"/>
<circle cx="860.13" cy="657.35" r="3.6"/>
<circle cx="860.13" cy="660.92" r="3.6"/>
<circle cx="860.13" cy="680.15" r="3.6"/>
<circle cx="860.13" cy="684.42" r="3.6"/>
<circle cx="860.13" cy="685.84" r="3.6"/>
<circle cx="860.13" cy="687.27" r="3.6"/>
<circle cx="860.13" cy="688.69" r="3.6"/>
<circle cx="860.13" cy="690.12" r="3.6"/>
<circle cx="860.13" cy="691.54" r="3.6"/>
<circle cx="860.13" cy="692.97" r="3.6"/>
<circle cx="860.13" cy="695.82" r="3.6"/>
<circle cx="860.13" cy="698.66" r="3.6"/>
<circle cx="860.13" cy="701.51" r="3.6"/>
<circle cx="860.13" cy="707.21" r="3.6"/>
<circle cx="860.13" cy="708.64" r="3.6"/>
<circle cx="860.13" cy="714.33" r="3.6"/>
<circle cx="860.13" cy="715.76" r="3.6"/>
<circle cx="860.13" cy="724.31" r="3.6"/>
<circle cx="860.13" cy="728.58" r="3.6"/>
<circle cx="860.13" cy="730" r="3.6"/>
<circle cx="860.13" cy="731.43" r="3.6"/>
<circle cx="860.13" cy="734.28" r="3.6"/>
<circle cx="860.13" cy="735.7" r="3.6"/>
<circle cx="860.13" cy="737.13" r="3.6"/>
<circle cx="860.13" cy="739.98" r="3.6"/>
<circle cx="860.13" cy="745.67" r="3.6"/>
<circle cx="860.13" cy="749.95" r="3.6"/>
<circle cx="860.13" cy="762.77" r="3.6"/>
<circle cx="860.13" cy="768.47" r="3.6"/>
<circle cx="860.13" cy="778.44" r="3.6"/>
<circle cx="907.84" cy="670.18" r="3.6"/>
<circle cx="907.84" cy="678.72" r="3.6"/>
<circle cx="907.84" cy="688.69" r="3.6"/>
<circle cx="907.84" cy="690.12" r="3.6"/>
<circle cx="907.84" cy="701.51" r="3.6"/>
<circle cx="907.84" cy="704.36" r="3.6"/>
<circle cx="907.84" cy="707.21" r="3.6"/>
<circle cx="907.84" cy="711.49" r="3.6"/>
<circle cx="907.84" cy="712.91" r="3.6"/>
<circle cx="907.84" cy="714.33" r="3.6"/>
<circle cx="907.84" cy="718.61" r="3.6"/>
<circle cx="907.84" cy="721.46" r="3.6"/>
<circle cx="907.84" cy="722.88" r="3.6"/>
<circle cx="907.84" cy="725.73" r="3.6"/>
<circle cx="907.84" cy="737.13" r="3.6"/>
<circle cx="907.84" cy="738.55" r="3.6"/>
<circle cx="907.84" cy="749.95" r="3.6"/>
<circle cx="907.84" cy="754.22" r="3.6"/>
<circle cx="907.84" cy="757.07" r="3.6"/>
<circle cx="907.84" cy="769.89" r="3.6"/>
<circle cx="955.55" cy="668.75" r="3.6"/>
<circle cx="955.55" cy="685.84" r="3.6"/>
<circle cx="955.55" cy="701.51" r="3.6"/>
<circle cx="955.55" cy="704.36" r="3.6"/>
<circle cx="955.55" cy="705.79" r="3.6"/>
<circle cx="955.55" cy="712.91" r="3.6"/>
<circle cx="955.55" cy="724.31" r="3.6"/>
<circle cx="955.55" cy="725.73" r="3.6"/>
<circle cx="955.55" cy="738.55" r="3.6"/>
<circle cx="1003.26" cy="654.51" r="3.6"/>
<circle cx="1003.26" cy="657.35" r="3.6"/>
<circle cx="1003.26" cy="688.69" r="3.6"/>
<circle cx="1003.26" cy="695.82" r="3.6"/>
<circle cx="1003.26" cy="697.24" r="3.6"/>
<circle cx="1003.26" cy="708.64" r="3.6"/>
<circle cx="1003.26" cy="724.31" r="3.6"/>
<circle cx="1003.26" cy="741.4" r="3.6"/>
<circle cx="1050.97" cy="673.02" r="3.6"/>
<circle cx="1050.97" cy="675.16" r="3.6"/>
<circle cx="1050.97" cy="700.09" r="3.6"/>
<circle cx="1050.97" cy="701.51" r="3.6"/>
<circle cx="1050.97" cy="702.94" r="3.6"/>
<circle cx="1050.97" cy="755.64" r="3.6"/>
<circle cx="1098.68" cy="697.24" r="3.6"/>
<circle cx="1098.68" cy="705.79" r="3.6"/>
<circle cx="1098.68" cy="710.06" r="3.6"/>
<circle cx="1146.39" cy="685.84" r="3.6"/>
<circle cx="1194.1" cy="668.75" r="3.6"/>
</g>
<g class="ax">
<line x1="717" y1="899.9" x2="717" y2="909.2" stroke-width="1.9" stroke-linecap="round"/>
<line x1="812.42" y1="899.9" x2="812.42" y2="909.2" stroke-width="1.9" stroke-linecap="round"/>
<line x1="907.84" y1="899.9" x2="907.84" y2="909.2" stroke-width="1.9" stroke-linecap="round"/>
<line x1="1003.26" y1="899.9" x2="1003.26" y2="909.2" stroke-width="1.9" stroke-linecap="round"/>
<line x1="1098.68" y1="899.9" x2="1098.68" y2="909.2" stroke-width="1.9" stroke-linecap="round"/>
<line x1="1194.1" y1="899.9" x2="1194.1" y2="909.2" stroke-width="1.9" stroke-linecap="round"/>
</g>
<g class="tl">
<text transform="translate(717 941) scale(1 1.045)" font-size="25.65" text-anchor="middle">0</text>
<text transform="translate(812.42 941) scale(1 1.045)" font-size="25.65" text-anchor="middle">2</text>
<text transform="translate(907.84 941) scale(1 1.045)" font-size="25.65" text-anchor="middle">4</text>
<text transform="translate(1003.26 941) scale(1 1.045)" font-size="25.65" text-anchor="middle">6</text>
<text transform="translate(1098.68 941) scale(1 1.045)" font-size="25.65" text-anchor="middle">8</text>
<text transform="translate(1194.1 941) scale(1 1.045)" font-size="25.65" text-anchor="middle">10</text>
</g>
<g class="ax">
<line x1="688.65" y1="883.85" x2="697.95" y2="883.85" stroke-width="1.9" stroke-linecap="round"/>
<line x1="688.65" y1="812.62" x2="697.95" y2="812.62" stroke-width="1.9" stroke-linecap="round"/>
<line x1="688.65" y1="741.4" x2="697.95" y2="741.4" stroke-width="1.9" stroke-linecap="round"/>
<line x1="688.65" y1="670.18" x2="697.95" y2="670.18" stroke-width="1.9" stroke-linecap="round"/>
<line x1="688.65" y1="598.95" x2="697.95" y2="598.95" stroke-width="1.9" stroke-linecap="round"/>
</g>
<g class="tl">
<text transform="translate(674.55 883.85) rotate(-90) scale(1 1.035)" font-size="25.65" text-anchor="middle">7.0</text>
<text transform="translate(674.55 812.62) rotate(-90) scale(1 1.035)" font-size="25.65" text-anchor="middle">7.5</text>
<text transform="translate(674.55 741.4) rotate(-90) scale(1 1.035)" font-size="25.65" text-anchor="middle">8.0</text>
<text transform="translate(674.55 670.18) rotate(-90) scale(1 1.035)" font-size="25.65" text-anchor="middle">8.5</text>
<text transform="translate(674.55 598.95) rotate(-90) scale(1 1.035)" font-size="25.65" text-anchor="middle">9.0</text>
</g>
<text transform="translate(955.5 972.1) scale(1 1.03)" font-size="25.65" text-anchor="middle">AR</text>
<text transform="translate(637.65 721.45) rotate(-90) scale(1 1.035)" font-size="25.65" text-anchor="middle">BD</text>
<rect class="box" x="1315.95" y="543" width="515.25" height="356.9"/>
<text transform="translate(1573 527.5) scale(0.943 1)" font-size="31" text-anchor="middle" font-weight="bold">F</text>
<g class="pt">
<circle cx="1334.67" cy="886.66" r="3.6"/>
<circle cx="1382.39" cy="831.57" r="3.6"/>
<circle cx="1382.39" cy="820.55" r="3.6"/>
<circle cx="1382.39" cy="804.03" r="3.6"/>
<circle cx="1382.39" cy="776.48" r="3.6"/>
<circle cx="1382.39" cy="721.39" r="3.6"/>
<circle cx="1382.39" cy="556.13" r="3.6"/>
<circle cx="1430.11" cy="820.55" r="3.6"/>
<circle cx="1430.11" cy="804.03" r="3.6"/>
<circle cx="1430.11" cy="792.22" r="3.6"/>
<circle cx="1430.11" cy="776.48" r="3.6"/>
<circle cx="1430.11" cy="754.45" r="3.6"/>
<circle cx="1430.11" cy="721.39" r="3.6"/>
<circle cx="1430.11" cy="666.31" r="3.6"/>
<circle cx="1430.11" cy="556.13" r="3.6"/>
<circle cx="1477.83" cy="820.55" r="3.6"/>
<circle cx="1477.83" cy="804.03" r="3.6"/>
<circle cx="1477.83" cy="776.48" r="3.6"/>
<circle cx="1477.83" cy="754.45" r="3.6"/>
<circle cx="1477.83" cy="721.39" r="3.6"/>
<circle cx="1477.83" cy="688.34" r="3.6"/>
<circle cx="1477.83" cy="666.31" r="3.6"/>
<circle cx="1477.83" cy="556.13" r="3.6"/>
<circle cx="1525.55" cy="839.44" r="3.6"/>
<circle cx="1525.55" cy="820.55" r="3.6"/>
<circle cx="1525.55" cy="804.03" r="3.6"/>
<circle cx="1525.55" cy="776.48" r="3.6"/>
<circle cx="1525.55" cy="762.71" r="3.6"/>
<circle cx="1525.55" cy="754.45" r="3.6"/>
<circle cx="1525.55" cy="721.39" r="3.6"/>
<circle cx="1525.55" cy="666.31" r="3.6"/>
<circle cx="1525.55" cy="638.76" r="3.6"/>
<circle cx="1525.55" cy="556.13" r="3.6"/>
<circle cx="1573.27" cy="820.55" r="3.6"/>
<circle cx="1573.27" cy="792.22" r="3.6"/>
<circle cx="1573.27" cy="776.48" r="3.6"/>
<circle cx="1573.27" cy="754.45" r="3.6"/>
<circle cx="1573.27" cy="721.39" r="3.6"/>
<circle cx="1573.27" cy="666.31" r="3.6"/>
<circle cx="1573.27" cy="556.13" r="3.6"/>
<circle cx="1620.99" cy="776.48" r="3.6"/>
<circle cx="1620.99" cy="721.39" r="3.6"/>
<circle cx="1620.99" cy="697.79" r="3.6"/>
<circle cx="1620.99" cy="688.34" r="3.6"/>
<circle cx="1620.99" cy="666.31" r="3.6"/>
<circle cx="1620.99" cy="556.13" r="3.6"/>
<circle cx="1668.71" cy="721.39" r="3.6"/>
<circle cx="1668.71" cy="703.03" r="3.6"/>
<circle cx="1668.71" cy="697.79" r="3.6"/>
<circle cx="1668.71" cy="638.76" r="3.6"/>
<circle cx="1668.71" cy="556.13" r="3.6"/>
<circle cx="1716.43" cy="697.79" r="3.6"/>
<circle cx="1716.43" cy="688.34" r="3.6"/>
<circle cx="1716.43" cy="666.31" r="3.6"/>
<circle cx="1764.15" cy="754.45" r="3.6"/>
<circle cx="1811.87" cy="688.34" r="3.6"/>
</g>
<g class="ax">
<line x1="1334.67" y1="899.9" x2="1334.67" y2="909.2" stroke-width="1.9" stroke-linecap="round"/>
<line x1="1430.11" y1="899.9" x2="1430.11" y2="909.2" stroke-width="1.9" stroke-linecap="round"/>
<line x1="1525.55" y1="899.9" x2="1525.55" y2="909.2" stroke-width="1.9" stroke-linecap="round"/>
<line x1="1620.99" y1="899.9" x2="1620.99" y2="909.2" stroke-width="1.9" stroke-linecap="round"/>
<line x1="1716.43" y1="899.9" x2="1716.43" y2="909.2" stroke-width="1.9" stroke-linecap="round"/>
<line x1="1811.87" y1="899.9" x2="1811.87" y2="909.2" stroke-width="1.9" stroke-linecap="round"/>
</g>
<g class="tl">
<text transform="translate(1334.67 941) scale(1 1.045)" font-size="25.65" text-anchor="middle">0</text>
<text transform="translate(1430.11 941) scale(1 1.045)" font-size="25.65" text-anchor="middle">2</text>
<text transform="translate(1525.55 941) scale(1 1.045)" font-size="25.65" text-anchor="middle">4</text>
<text transform="translate(1620.99 941) scale(1 1.045)" font-size="25.65" text-anchor="middle">6</text>
<text transform="translate(1716.43 941) scale(1 1.045)" font-size="25.65" text-anchor="middle">8</text>
<text transform="translate(1811.87 941) scale(1 1.045)" font-size="25.65" text-anchor="middle">10</text>
</g>
<g class="ax">
<line x1="1306.65" y1="886.66" x2="1315.95" y2="886.66" stroke-width="1.9" stroke-linecap="round"/>
<line x1="1306.65" y1="820.55" x2="1315.95" y2="820.55" stroke-width="1.9" stroke-linecap="round"/>
<line x1="1306.65" y1="754.45" x2="1315.95" y2="754.45" stroke-width="1.9" stroke-linecap="round"/>
<line x1="1306.65" y1="688.34" x2="1315.95" y2="688.34" stroke-width="1.9" stroke-linecap="round"/>
<line x1="1306.65" y1="622.24" x2="1315.95" y2="622.24" stroke-width="1.9" stroke-linecap="round"/>
<line x1="1306.65" y1="556.13" x2="1315.95" y2="556.13" stroke-width="1.9" stroke-linecap="round"/>
</g>
<g class="tl">
<text transform="translate(1292.55 886.66) rotate(-90) scale(1 1.035)" font-size="25.65" text-anchor="middle">0.0</text>
<text transform="translate(1292.55 820.55) rotate(-90) scale(1 1.035)" font-size="25.65" text-anchor="middle">0.2</text>
<text transform="translate(1292.55 754.45) rotate(-90) scale(1 1.035)" font-size="25.65" text-anchor="middle">0.4</text>
<text transform="translate(1292.55 688.34) rotate(-90) scale(1 1.035)" font-size="25.65" text-anchor="middle">0.6</text>
<text transform="translate(1292.55 622.24) rotate(-90) scale(1 1.035)" font-size="25.65" text-anchor="middle">0.8</text>
<text transform="translate(1292.55 556.13) rotate(-90) scale(1 1.035)" font-size="25.65" text-anchor="middle">1.0</text>
</g>
<text transform="translate(1573 972.1) scale(1 1.03)" font-size="25.65" text-anchor="middle">AR</text>
<text transform="translate(1257.15 721.45) rotate(-90) scale(1 1.035)" font-size="25.65" text-anchor="middle">BS</text>
</svg>
</body>
</html>
